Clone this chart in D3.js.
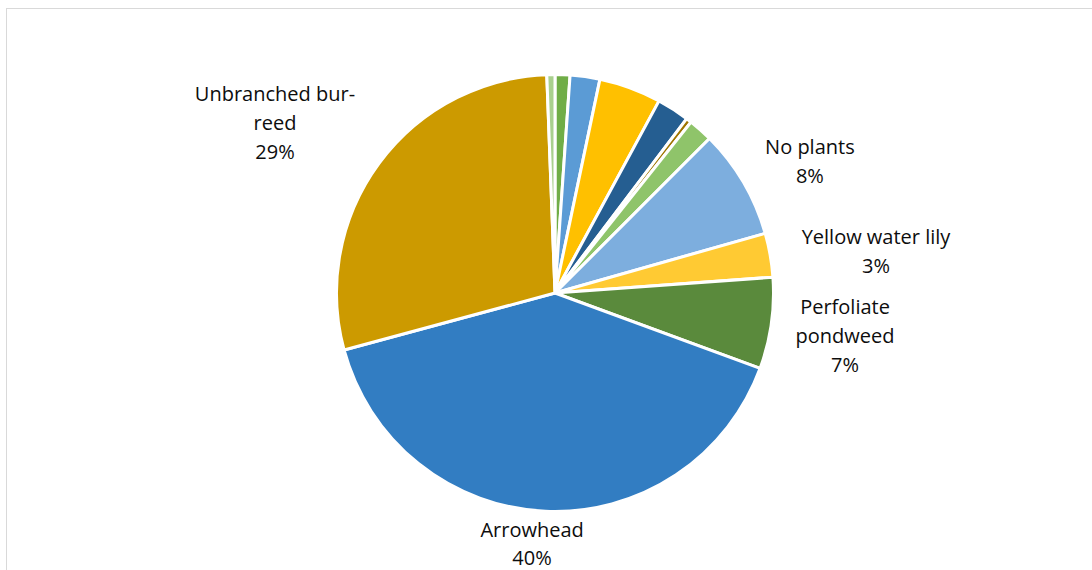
<!DOCTYPE html>
<html>
<head>
<meta charset="utf-8">
<script src="https://cdn.jsdelivr.net/npm/d3@7"></script>
<style>
  html, body { margin: 0; padding: 0; background: #fff; }
  svg { display: block; }
</style>
</head>
<body>
<svg id="chart" width="1092" height="570"></svg>
<script>
// Share of survey points by dominant vegetation (percent), clockwise from 12 o'clock
const categories = [
  "Coontail", "Water celery", "Pickerelweed", "Common waterweed", "Duckweed",
  "Curly pondweed", "No plants", "Yellow water lily", "Perfoliate pondweed",
  "Arrowhead", "Unbranched bur-reed", "Water smartweed"
];
const values = [1.1, 2.2, 4.6, 2.4, 0.4, 1.8, 8.1, 3.25, 6.75, 40.2, 28.6, 0.6];
const colors = [
  "#70AD47", "#5B9BD5", "#FFC000", "#255E91", "#9E7400", "#8FC46A",
  "#7DAEDE", "#FFCA33", "#5A8A3C", "#327DC2", "#CC9A00", "#A9D08E"
];
// Slices that carry a data label, with their wrapped label lines
const labelled = ["No plants", "Yellow water lily", "Perfoliate pondweed", "Arrowhead", "Unbranched bur-reed"];
const labelLines = {
  "No plants": ["No plants"],
  "Yellow water lily": ["Yellow water lily"],
  "Perfoliate pondweed": ["Perfoliate", "pondweed"],
  "Arrowhead": ["Arrowhead"],
  "Unbranched bur-reed": ["Unbranched bur-", "reed"]
};

// Label placement: radial distance from centre and angular nudge (degrees) from slice mid-angle
const labelLayout = {
  "No plants":            { dist: 286.9, shift: 3.1 },
  "Yellow water lily":    { dist: 323.7, shift: 2.6 },
  "Perfoliate pondweed":  { dist: 293.2, shift: 0.4 },
  "Arrowhead":            { dist: 252,   shift: 2.7 },
  "Unbranched bur-reed":  { dist: 327.6, shift: -5.1 }
};

const svg = d3.select("#chart");
const cx = 555, cy = 293, radius = 218.5;

// Chart area frame
svg.append("rect")
  .attr("x", 6.5).attr("y", 8.5)
  .attr("width", 1200).attr("height", 700)
  .attr("fill", "none")
  .attr("stroke", "#D9D9D9")
  .attr("stroke-width", 1);

const total = d3.sum(values);
const data = categories.map((c, i) => ({ name: c, value: values[i], color: colors[i] }));

const pie = d3.pie().value(d => d.value).sort(null)
  .startAngle(0).endAngle(2 * Math.PI);
const arcs = pie(data);
const arc = d3.arc().innerRadius(0).outerRadius(radius);

const g = svg.append("g").attr("transform", `translate(${cx},${cy})`);

g.selectAll("path.slice")
  .data(arcs)
  .join("path")
  .attr("class", "slice")
  .attr("d", arc)
  .attr("fill", d => d.data.color)
  .attr("stroke", "#fff")
  .attr("stroke-width", 3)
  .attr("stroke-linejoin", "round");

const fmt = v => Math.round(v / total * 100) + "%";
const lineH = 28.7;

const labels = g.selectAll("g.label")
  .data(arcs.filter(d => labelled.includes(d.data.name)))
  .join("g")
  .attr("class", "label")
  .attr("transform", d => {
    const lay = labelLayout[d.data.name];
    const a = (d.startAngle + d.endAngle) / 2 + lay.shift * Math.PI / 180;
    return `translate(${Math.sin(a) * lay.dist},${-Math.cos(a) * lay.dist})`;
  });

labels.each(function(d) {
  const lines = labelLines[d.data.name].concat([fmt(d.data.value)]);
  const n = lines.length;
  d3.select(this).selectAll("text")
    .data(lines)
    .join("text")
    .attr("x", 0)
    .attr("y", (t, i) => (i - (n - 1) / 2) * lineH)
    .attr("dy", "0.35em")
    .attr("text-anchor", "middle")
    .attr("font-family", "'Open Sans', sans-serif")
    .attr("font-size", 20)
    .attr("fill", "#0D0D0D")
    .text(t => t);
});
</script>
</body>
</html>
